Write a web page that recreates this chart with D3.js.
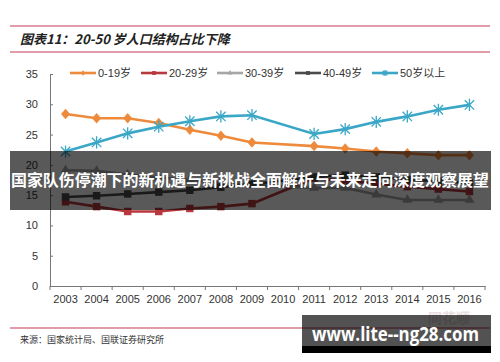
<!DOCTYPE html>
<html lang="zh">
<head>
<meta charset="UTF-8">
<title>20-50岁人口结构占比下降</title>
<script src="https://d3js.org/d3.v7.min.js"></script>
<style>
    body { margin: 0; background: #fff; }
    svg { display: block; font-family: "Liberation Sans", Arial, sans-serif; }
    .tick text { fill: #333; font-size: 11px; }
</style>
</head>
<body>
<svg width="500" height="362"></svg>
<script>
    // data (2010 has no value, the lines run straight across it)
    const years = ["2003", "2004", "2005", "2006", "2007", "2008", "2009", "2010",
                   "2011", "2012", "2013", "2014", "2015", "2016"];
    const age0_19  = [28.4, 27.7, 27.7, 26.9, 25.8, 24.8, 23.7, null, 23.1, 22.7, 22.2, 21.9, 21.6, 21.6];
    const age20_29 = [13.9, 13.1, 12.3, 12.3, 12.8, 13.1, 13.6, null, 17.8, 17.4, 16.9, 16.4, 16.0, 15.6];
    const age30_39 = [19.1, 19.0, 18.4, 17.9, 17.5, 17.1, 16.7, null, 16.2, 16.2, 15.1, 14.2, 14.2, 14.2];
    const age40_49 = [14.7, 14.9, 15.2, 15.5, 15.8, 16.3, 16.8, null, 18.0, 18.3, 18.0, 17.6, 17.3, 17.0];
    const age50up  = [22.2, 23.7, 25.2, 26.3, 27.2, 28.0, 28.2, null, 25.1, 25.9, 27.1, 28.0, 29.1, 29.9];
    const yTicks = [0, 5, 10, 15, 20, 25, 30, 35];

    const series = [
        { name: "0-19岁",  values: age0_19,  color: "#ee8a3c", marker: "diamond" },
        { name: "20-29岁", values: age20_29, color: "#b8383d", marker: "square" },
        { name: "30-39岁", values: age30_39, color: "#a6a6a6", marker: "triangle" },
        { name: "40-49岁", values: age40_49, color: "#4a4a4a", marker: "square" },
        { name: "50岁以上", values: age50up,  color: "#3aa7c7", marker: "star" }
    ];

    const svg = d3.select("svg");
    const red = "#c33a55";

    // frame: red rules, title, source
    [26, 52, 328].forEach(yy => {
        svg.append("line").attr("x1", 10).attr("x2", 490).attr("y1", yy).attr("y2", yy)
            .attr("stroke", red).attr("stroke-width", 1.2);
    });

    svg.append("text").attr("x", 20).attr("y", 44)
        .attr("font-family", "'Noto Sans CJK SC', sans-serif")
        .attr("font-size", 13).attr("font-weight", "bold").attr("font-style", "italic")
        .attr("fill", "#222")
        .text("图表11：20-50 岁人口结构占比下降");

    svg.append("text").attr("x", 20).attr("y", 343)
        .attr("font-family", "'Noto Sans CJK SC', sans-serif")
        .attr("font-size", 9).attr("fill", "#333")
        .text("来源：国家统计局、国联证券研究所");

    // scales
    const x = d3.scaleBand().domain(years).range([50, 485]);
    const y = d3.scaleLinear().domain([0, 35]).range([286, 74]);

    // y axis
    const yAxis = svg.append("g").attr("transform", "translate(50,0)")
        .call(d3.axisLeft(y).tickValues(yTicks).tickSize(-3).tickPadding(12));
    yAxis.select(".domain").attr("stroke", "#777");
    yAxis.selectAll(".tick line").attr("stroke", "#777");

    // x axis, ticks sit between categories
    const xAxis = svg.append("g").attr("transform", "translate(0,286)")
        .call(d3.axisBottom(x).tickSize(0).tickPadding(9));
    xAxis.select(".domain").attr("stroke", "#777");
    xAxis.selectAll(".edge")
        .data(years.concat(["end"]))
        .enter().append("line")
        .attr("x1", (d, i) => 50 + i * x.step())
        .attr("x2", (d, i) => 50 + i * x.step())
        .attr("y1", 0).attr("y2", 4)
        .attr("stroke", "#777");

    const cx = i => x(years[i]) + x.bandwidth() / 2;

    const line = d3.line()
        .x(d => cx(d.i))
        .y(d => y(d.v));

    function marker(sel, type, color, s) {
        if (type === "star") {
            const p = `M${-s},${-s}L${s},${s}M${-s},${s}L${s},${-s}M0,${-s * 1.3}L0,${s * 1.3}`;
            sel.append("path").attr("d", p).attr("stroke", color).attr("stroke-width", 1.3).attr("fill", "none");
            return;
        }
        const sym = type === "diamond" ? d3.symbolDiamond2 :
                    type === "triangle" ? d3.symbolTriangle2 : d3.symbolSquare2;
        const path = d3.symbol().type(sym).size(s * s * 3.2)();
        sel.append("path").attr("d", path).attr("fill", color)
            .attr("transform", type === "diamond" ? "scale(0.85,1)" : null);
    }

    series.forEach(s => {
        const pts = s.values.map((v, i) => ({ i, v })).filter(d => d.v != null);
        const g = svg.append("g");
        g.append("path").datum(pts).attr("d", line)
            .attr("fill", "none").attr("stroke", s.color).attr("stroke-width", 2.6);
        g.selectAll(".m").data(pts).enter().append("g")
            .attr("transform", d => `translate(${cx(d.i)},${y(d.v)})`)
            .each(function () { marker(d3.select(this), s.marker, s.color, 4.7); });
    });

    // legend
    const legendX = [70, 141, 217, 295, 372];
    series.forEach((s, i) => {
        const g = svg.append("g").attr("transform", `translate(${legendX[i]},73)`);
        g.append("line").attr("x1", 0).attr("x2", 26).attr("stroke", s.color).attr("stroke-width", 2.6);
        const mg = g.append("g").attr("transform", "translate(13,0)");
        marker(mg, s.marker, s.color, 2.4);
        g.append("text").attr("x", 28).attr("y", 4)
            .attr("font-family", "'Liberation Sans', 'Noto Sans CJK SC', sans-serif")
            .attr("font-size", 11).attr("fill", "#333").text(s.name);
    });

    // faint logo watermark at bottom right
    svg.append("text").attr("x", 428).attr("y", 323)
        .attr("font-family", "'Noto Sans CJK SC', sans-serif")
        .attr("font-size", 14).attr("font-weight", "bold").attr("fill", "#eadde0")
        .text("同花顺");

    // overlay banner across the middle
    svg.append("rect").attr("x", 10).attr("y", 151).attr("width", 481).attr("height", 59)
        .attr("fill", "rgba(0,0,0,0.65)");
    svg.append("text").attr("x", 250).attr("y", 186)
        .attr("text-anchor", "middle")
        .attr("font-family", "'Noto Sans CJK SC', sans-serif")
        .attr("font-size", 15.5).attr("font-weight", "bold").attr("fill", "#fff")
        .attr("textLength", 478).attr("lengthAdjust", "spacingAndGlyphs")
        .text("国家队伤停潮下的新机遇与新挑战全面解析与未来走向深度观察展望");

    // site label box
    svg.append("rect").attr("x", 302).attr("y", 315).attr("width", 189).attr("height", 31)
        .attr("fill", "rgba(0,0,0,0.68)");
    svg.append("rect").attr("x", 302).attr("y", 346).attr("width", 189).attr("height", 7)
        .attr("fill", "#000");
    svg.append("text").attr("x", 312).attr("y", 341)
        .attr("font-family", "'Open Sans', sans-serif")
        .attr("font-size", 19).attr("font-weight", "bold").attr("fill", "#fff")
        .attr("textLength", 167).attr("lengthAdjust", "spacingAndGlyphs")
        .text("www.lite--ng28.com");
</script>
</body>
</html>
